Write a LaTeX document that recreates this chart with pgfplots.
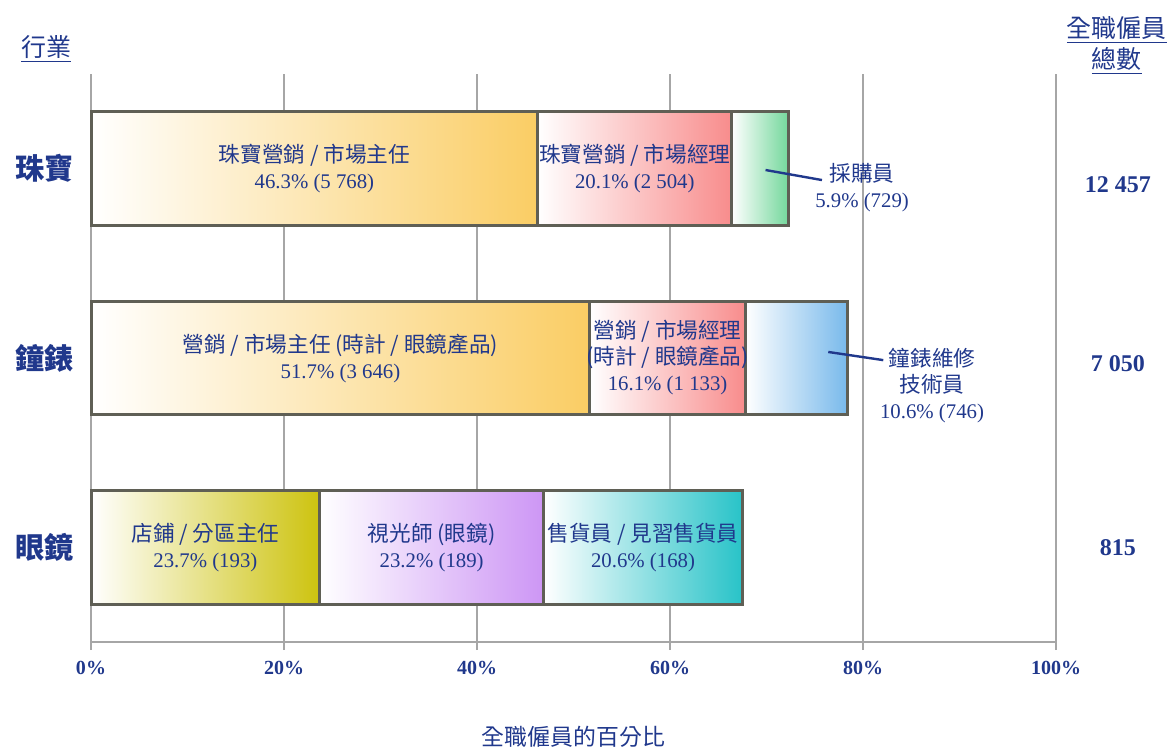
\documentclass[border=0pt]{standalone}
\usepackage{pgfplots}
\pgfplotsset{compat=1.18}
\usepackage{fontspec}
\setmainfont{Liberation Serif}
\newfontfamily\cjk[Scale=1.04]{Noto Sans CJK TC}

\definecolor{navy}{RGB}{32,56,140}
\definecolor{cOrange}{RGB}{250,205,100}
\definecolor{cRed}{RGB}{248,140,140}
\definecolor{cGreen}{RGB}{115,215,155}
\definecolor{cBlue}{RGB}{120,185,235}
\definecolor{cOlive}{RGB}{205,195,15}
\definecolor{cPurple}{RGB}{205,150,245}
\definecolor{cTeal}{RGB}{40,195,200}
\definecolor{edge}{RGB}{95,95,85}

\pgfplotsset{
  base/.style={
    width=482.5pt, height=284pt, scale only axis,
    xmin=0, xmax=100, ymin=-0.5, ymax=2.5,
    xbar stacked, bar width=0.6, clip=false,
  },
  seg/.style={draw=edge, line width=1.5pt, left color=white, right color=#1},
}
\tikzset{
  txt/.style={text=navy, inner sep=0pt},
  lab/.style={txt, font=\fontsize{10.4}{13}\selectfont, align=center},
}

\begin{document}
\begin{tikzpicture}
  % visible axis + eyewear
  \begin{axis}[
    base,
    axis x line*=bottom,
    axis y line=none,
    xtick={0,20,40,60,80,100},
    xticklabels={0\%,20\%,40\%,60\%,80\%,100\%},
    ytick=\empty,
    tick align=outside,
    major tick length=4pt,
    xmajorgrids,
    grid style={gray!70, line width=0.8pt},
    x axis line style={gray!70, line width=0.8pt},
    every tick/.style={gray!70, line width=0.8pt},
    xticklabel style={font=\fontsize{10}{12}\selectfont\bfseries, text=navy, yshift=-2pt},
  ]
    \addplot[seg=cOlive] coordinates {(23.7,0)};
    \addplot[seg=cPurple] coordinates {(23.2,0)};
    \addplot[seg=cTeal] coordinates {(20.6,0)};
  \end{axis}
  % jewellery
  \begin{axis}[base, hide axis]
    \addplot[seg=cOrange] coordinates {(46.3,2)};
    \addplot[seg=cRed] coordinates {(20.1,2)};
    \addplot[seg=cGreen] coordinates {(5.9,2)};
  \end{axis}
  % watches
  \begin{axis}[base, hide axis]
    \addplot[seg=cOrange] coordinates {(51.7,1)};
    \addplot[seg=cRed] coordinates {(16.1,1)};
    \addplot[seg=cBlue] coordinates {(10.6,1)};
  \end{axis}
  % all text on top
  \begin{axis}[base, hide axis]
    \path (axis cs:-9.43,-1.065) rectangle (axis cs:111.81,2.891);

    % segment labels
    \node[lab] at (axis cs:23.15,2) {{\cjk 珠寶營銷 / 市場主任}\\46.3\% (5 768)};
    \node[lab] at (axis cs:56.35,2) {{\cjk 珠寶營銷 / 市場經理}\\20.1\% (2 504)};
    \node[lab] at (axis cs:25.85,1) {{\cjk 營銷 / 市場主任 (時計 / 眼鏡產品)}\\51.7\% (3 646)};
    \node[lab] at (axis cs:59.75,1) {{\cjk 營銷 / 市場經理}\\{\cjk (時計 / 眼鏡產品)}\\16.1\% (1 133)};
    \node[lab] at (axis cs:11.85,0) {{\cjk 店鋪 / 分區主任}\\23.7\% (193)};
    \node[lab] at (axis cs:35.3,0) {{\cjk 視光師 (眼鏡)}\\23.2\% (189)};
    \node[lab] at (axis cs:57.2,0) {{\cjk 售貨員 / 見習售貨員}\\20.6\% (168)};

    % outside labels with leaders
    \draw[navy, line width=1.2pt] (axis cs:69.9,1.993) -- (axis cs:75.75,1.94);
    \node[lab] at (axis cs:79.9,1.898) {{\cjk 採購員}\\5.9\% (729)};
    \draw[navy, line width=1.2pt] (axis cs:76.4,1.032) -- (axis cs:82.1,0.989);
    \node[lab] at (axis cs:87.15,0.852) {{\cjk 鐘錶維修}\\{\cjk 技術員}\\10.6\% (746)};

    % category labels
    \node[txt, font=\cjk\fontsize{14}{16}\selectfont\bfseries] at (axis cs:-4.77,2) {珠寶};
    \node[txt, font=\cjk\fontsize{14}{16}\selectfont\bfseries] at (axis cs:-4.77,1) {鐘錶};
    \node[txt, font=\cjk\fontsize{14}{16}\selectfont\bfseries] at (axis cs:-4.77,0) {眼鏡};
    \node[txt, font=\cjk\fontsize{12}{14}\selectfont] at (axis cs:-4.66,2.63) {\underline{行業}};

    % totals
    \node[txt, font=\cjk\fontsize{12}{15.5}\selectfont, align=center] at (axis cs:106.3,2.65) {\underline{全職僱員}\\\underline{總數}};
    \node[txt, font=\fontsize{12}{14}\selectfont\bfseries] at (axis cs:106.4,1.914) {12 457};
    \node[txt, font=\fontsize{12}{14}\selectfont\bfseries] at (axis cs:106.4,0.968) {7 050};
    \node[txt, font=\fontsize{12}{14}\selectfont\bfseries] at (axis cs:106.4,-0.003) {815};

    % x axis title
    \node[txt, font=\cjk\fontsize{11}{13}\selectfont] at (axis cs:50,-1.0) {全職僱員的百分比};
  \end{axis}
\end{tikzpicture}
\end{document}
